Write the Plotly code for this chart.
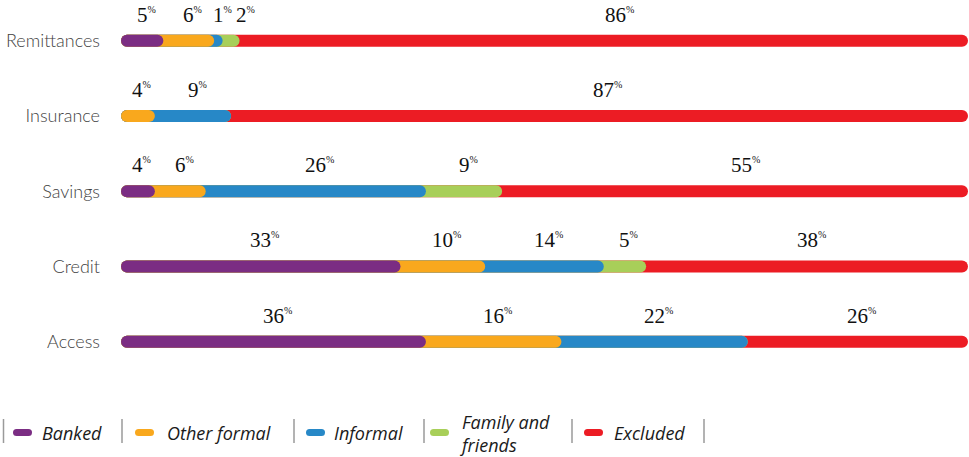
import plotly.graph_objects as go

categories = ["Remittances", "Insurance", "Savings", "Credit", "Access"]
series_names = ["Banked", "Other formal", "Informal", "Family and friends", "Excluded"]
banked = [5, 0, 4, 33, 36]
other_formal = [6, 4, 6, 10, 16]
informal = [1, 9, 26, 14, 22]
family = [2, 0, 9, 5, 0]
excluded = [86, 87, 55, 38, 26]

colors = ["#7B2D83", "#F9A81D", "#2788C7", "#A8CF59", "#EC1C24"]
series = [banked, other_formal, informal, family, excluded]

# page geometry (page pixels); body margin removed below
W, H = 969, 457
PLOT_L, PLOT_R, PLOT_T, PLOT_B = 121, 968, 8, 379
ML, MR = PLOT_L, W - PLOT_R
MT, MB = PLOT_T, H - PLOT_B
PW, PH = PLOT_R - PLOT_L, PLOT_B - PLOT_T
ROW0, ROWSTEP = 40.7, 75.25


def xp(px):
    return (px - PLOT_L) / PW


def yp(py):
    return (PLOT_B - py) / PH


# cumulative ends
cum = []
run = [0] * len(categories)
for s in series:
    run = [r + v for r, v in zip(run, s)]
    cum.append(run)

fig = go.Figure()
# longest (Excluded) first, Banked last so rounded ends overlap to the right
for i in reversed(range(len(series))):
    fig.add_trace(go.Bar(
        y=categories, x=cum[i], orientation="h", base=0,
        marker=dict(color=colors[i], cornerradius=6, line=dict(width=0)),
        width=0.16, name=series_names[i], showlegend=False,
        hoverinfo="skip",
    ))

annotations = []
extra_shift = {("Remittances", 3): 10, ("Remittances", 4): 12, ("Savings", 4): 6,
               ("Insurance", 4): 4}
for ci, cat in enumerate(categories):
    for si, s in enumerate(series):
        v = s[ci]
        if v == 0:
            continue
        center = cum[si][ci] - v / 2
        annotations.append(dict(
            x=center, y=cat, xref="x", yref="y",
            text=f"{v}<sup><span style='font-size:10px'>%</span></sup>",
            showarrow=False, yshift=26, xshift=4 + extra_shift.get((cat, si), 0),
            xanchor="center", yanchor="middle",
            font=dict(family="Liberation Serif", size=21, color="#111111"),
        ))

# manual legend
shapes = []
sep_x = [3.5, 122, 294, 424, 572, 704]
for sx in sep_x:
    shapes.append(dict(type="line", xref="paper", yref="paper",
                       x0=xp(sx), x1=xp(sx), y0=yp(419), y1=yp(443),
                       line=dict(color="#9a9a9a", width=1.5)))
marker_x = [13, 135, 306, 430, 584]
text_x = [40, 165, 332, 457, 612]
legend_labels = ["Banked", "Other formal", "Informal", "Family and<br>friends", "Excluded"]
cap = "M 3.5,-3.5 L 15.5,-3.5 Q 19,-3.5 19,0 Q 19,3.5 15.5,3.5 L 3.5,3.5 Q 0,3.5 0,0 Q 0,-3.5 3.5,-3.5 Z"
for i in range(len(series_names)):
    shapes.append(dict(type="path", xref="paper", yref="paper",
                       xsizemode="pixel", ysizemode="pixel",
                       xanchor=xp(marker_x[i]), yanchor=yp(432.5),
                       path=cap, fillcolor=colors[i], line=dict(width=0)))
    annotations.append(dict(
        x=xp(text_x[i]), y=yp(433), xref="paper", yref="paper",
        text=f"<i>{legend_labels[i]}</i>", showarrow=False,
        xanchor="left", yanchor="middle", align="left",
        font=dict(family="Open Sans", size=18, color="#1a1a1a"),
    ))

y_top = (PLOT_T - ROW0) / ROWSTEP
y_bot = (PLOT_B - ROW0) / ROWSTEP

fig.update_layout(
    width=W, height=H,
    margin=dict(l=ML, r=MR, t=MT, b=MB, pad=0),
    barmode="overlay",
    plot_bgcolor="white", paper_bgcolor="white",
    xaxis=dict(range=[0, 100], visible=False, fixedrange=True),
    yaxis=dict(categoryorder="array", categoryarray=categories,
               range=[y_bot, y_top], showgrid=False, zeroline=False, showline=False,
               ticks="", ticklabelstandoff=20, fixedrange=True,
               tickfont=dict(family="Lato", size=18, color="#3f3f3f", weight=300)),
    annotations=annotations,
    shapes=shapes,
    showlegend=False,
    hovermode=False,
)

fig.write_html(
    "out.html",
    config={"displayModeBar": False, "staticPlot": True},
    post_script="document.body.style.margin='0';document.body.style.overflow='hidden';",
)
